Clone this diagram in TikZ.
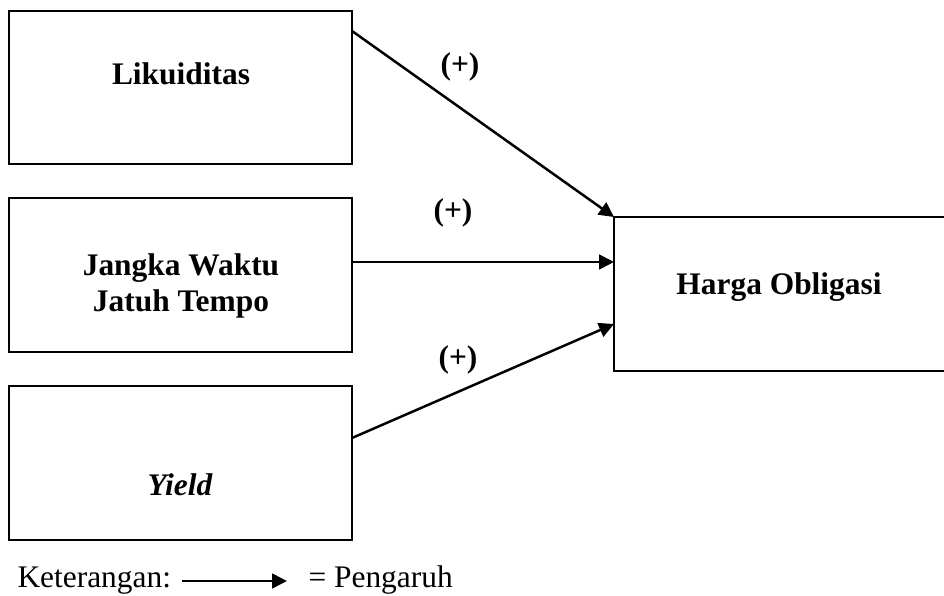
\documentclass[tikz,border=0pt]{standalone}
\usepackage{fontspec}
\setmainfont{Liberation Serif}
\usepackage{tikz}
\usetikzlibrary{arrows.meta}
\usetikzlibrary{positioning}

\tikzset{
    varbox/.style={draw, line width=0.75pt, rectangle, inner sep=0pt, outer sep=0pt},
    varlabel/.style={font=\fontsize{12}{13.8}\selectfont\bfseries, inner sep=0pt, align=center},
    plainlabel/.style={font=\fontsize{12}{13.8}\selectfont, inner sep=0pt},
    effect/.style={line width=0.95pt, -{Triangle[length=5.7pt,width=5.6pt]}}
}

\begin{document}
\begin{tikzpicture}[x=0.382pt, y=-0.382pt]
    \useasboundingbox (0,0) rectangle (944,596);
    % kotak variabel
    \node[varbox, minimum width=131pt, minimum height=58.4pt] (likuid) at (180.5,87.5) {};
    \node[varbox, minimum width=131pt, minimum height=58.8pt] (jangka) at (180.5,275) {};
    \node[varbox, minimum width=131pt, minimum height=58.8pt] (yield) at (180.5,463) {};
    \node[varbox, minimum width=127.6pt, minimum height=58.8pt] (harga) at (781,294) {};

    \node[varlabel, anchor=base] (likuidtxt) at (181,85) {Likuiditas};
    \node[varlabel] (jangkatxt) at (181,286) {Jangka Waktu\\Jatuh Tempo};
    \node[varlabel, anchor=base] (yieldtxt) at (180,495) {\itshape Yield};
    \node[varlabel, anchor=base] (hargatxt) at (779,295) {Harga Obligasi};

    % pengaruh
    \coordinate (s1) at (352,31);
    \coordinate (s2) at (352,262);
    \coordinate (s3) at (352,438);
    \coordinate (t2) at (614,262);
    \coordinate (t3) at (614,324);
    \draw[effect] (s1) -- (harga.north west);
    \draw[effect] (s2) -- (t2);
    \draw[effect] (s3) -- (t3);
    \node[varlabel] (plus1) at (460,67) {(+)};
    \node[varlabel] (plus2) at (453,213) {(+)};
    \node[varlabel] (plus3) at (458,360) {(+)};

    % keterangan
    \node[plainlabel, anchor=base west] (ket) at (17,587) {Keterangan:};
    \coordinate (k1) at (182,581);
    \coordinate (k2) at (287,581);
    \draw[effect] (k1) -- (k2);
    \node[plainlabel, anchor=base west] (peng) at (308,587) {= Pengaruh};
\end{tikzpicture}
\end{document}
